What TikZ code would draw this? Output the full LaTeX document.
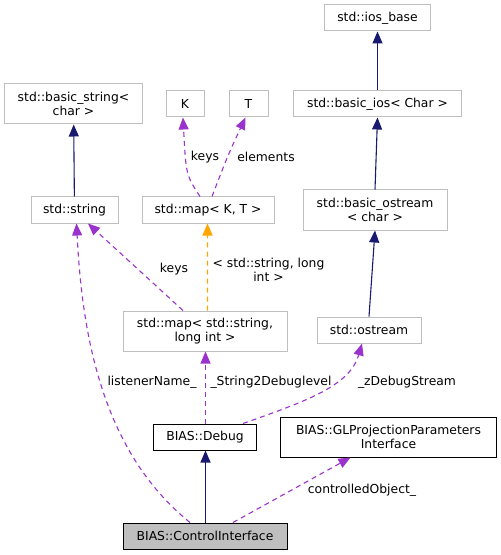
\documentclass[tikz,border=0pt]{standalone}
\usepackage{fontspec}
\setmainfont{DejaVu Sans}
\usepackage{xcolor}
\usetikzlibrary{arrows.meta, positioning, calc}
\definecolor{dxnavy}{HTML}{191970}
\definecolor{dxpurple}{HTML}{9A32CD}
\definecolor{dxorange}{HTML}{FFA500}
\definecolor{dxgrey}{HTML}{BFBFBF}

\begin{document}
\begin{tikzpicture}[
  x=1bp, y=-1bp,
  font=\fontsize{12.4}{14.6}\selectfont,
  ext/.style={rectangle, draw=dxgrey, fill=white, line width=1bp, inner sep=0pt, minimum height=26bp, align=center},
  cls/.style={ext, draw=black},
  lbl/.style={inner sep=0pt, align=center},
  inh/.style={-{Triangle[length=12bp, width=10bp]}, color=dxnavy, line width=1.1bp},
  use/.style={-{Triangle[length=12bp, width=10bp]}, color=dxpurple, line width=1.1bp, dash pattern=on 5bp off 4bp},
  tmpl/.style={use, color=dxorange},
]
\useasboundingbox (0,0) rectangle (501,555);

% Std library
\node[ext, minimum width=106bp] (iosbase) at (377.5,18) {std::ios\_base};
\node[ext, minimum width=138bp, minimum height=40bp] (basicstring) at (73.5,104) {std::basic\_string<\\char >};
\node[ext, minimum width=38bp] (K) at (185,104) {K};
\node[ext, minimum width=39bp] (T) at (248.5,104) {T};
\node[ext, minimum width=168bp] (basicios) at (377.5,104) {std::basic\_ios< Char >};
\node[ext, minimum width=87bp] (string) at (74.5,210) {std::string};
\node[ext, minimum width=132bp] (mapKT) at (208,210) {std::map< K, T >};
\node[ext, minimum width=144bp, minimum height=40bp] (basicostream) at (375,210) {std::basic\_ostream\\< char >};
\node[ext, minimum width=164bp, minimum height=40bp] (smap) at (205,331) {std::map< std::string,\\long int >};
\node[ext, minimum width=104bp] (ostream) at (369,330) {std::ostream};

% BIAS classes
\node[cls, minimum width=103bp] (debug) at (205,437) {BIAS::Debug};
\node[cls, minimum width=216bp, minimum height=40bp] (glproj) at (388.5,437) {BIAS::GLProjectionParameters\\Interface};
\node[cls, fill=dxgrey, minimum width=164bp] (ctrl) at (205,536) {BIAS::ControlInterface};

% Labels
\node[lbl] (lkeysK) at (205,157) {keys};
\node[lbl] (lelements) at (266,157) {elements};
\node[lbl] (lkeysS) at (174,269) {keys};
\node[lbl] (ltmpl) at (268.5,270) {< std::string, long\\int >};
\node[lbl] (llistener) at (152,382) {listenerName\_};
\node[lbl] (lstring2) at (271,382) {\_String2Debuglevel};
\node[lbl] (lzdebug) at (407,382) {\_zDebugStream};
\node[lbl] (lcontrolled) at (362,490) {controlledObject\_};

% Inheritance
\draw[inh] (basicios) -- (iosbase);
\draw[inh] (basicostream.north) -- (basicios.south);
\draw[inh] (string) -- (basicstring);
\draw[inh] ([xshift=0.5bp]ctrl.north) -- ([xshift=0.5bp]debug.south);
\draw[inh] (ostream.north) -- (basicostream.south);

% Usage
\draw[use] ([xshift=-8bp]mapKT.north) .. controls (186,175) .. ([xshift=-2bp]K.south);
\draw[use] ([xshift=4bp]mapKT.north) .. controls (228,155) .. ([xshift=-3bp]T.south);
\draw[tmpl] ([xshift=2.5bp]smap.north) -- ([xshift=-0.5bp]mapKT.south);
\draw[use] ([xshift=-22bp]smap.north) -- ([xshift=13.5bp]string.south);
\draw[use] ([xshift=-15bp]ctrl.north) .. controls (100,450) and (82,330) .. ([xshift=2bp]string.south);
\draw[use] ([xshift=0.5bp]debug.north) -- ([xshift=0.5bp]smap.south);
\draw[use] ([xshift=38bp]debug.north) .. controls (310,400) and (350,385) .. ([xshift=-7bp]ostream.south);
\draw[use] ([xshift=28bp]ctrl.north) -- ([xshift=-38bp]glproj.south);

\end{tikzpicture}
\end{document}
